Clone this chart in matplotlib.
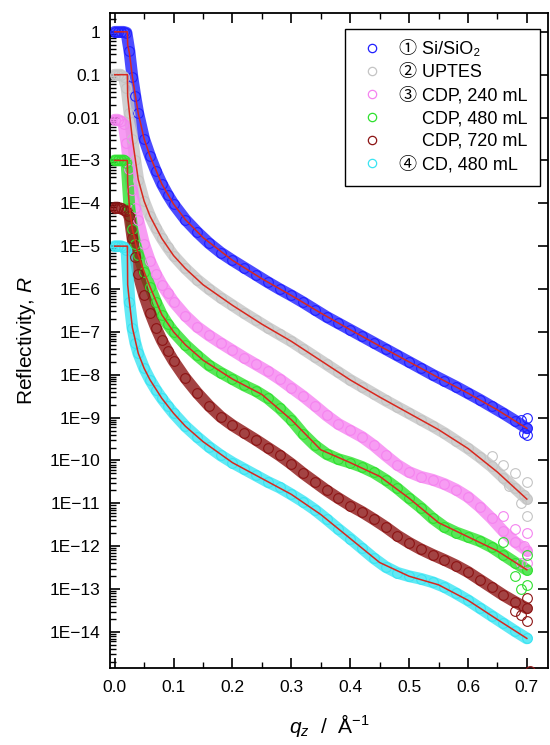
import matplotlib
matplotlib.use("Agg")
import matplotlib.pyplot as plt
from matplotlib.lines import Line2D
from matplotlib.ticker import FixedLocator, MultipleLocator, LogLocator, NullFormatter
import numpy as np

plt.rcParams['font.family'] = ['Liberation Sans', 'Noto Sans CJK JP', 'DejaVu Sans']
plt.rcParams['mathtext.fontset'] = 'custom'
plt.rcParams['mathtext.it'] = 'Liberation Sans:italic'
plt.rcParams['mathtext.rm'] = 'Liberation Sans'

# measured data (log10 R, offset by decades as in the paper figure)
q = [0, 0.005, 0.01, 0.015, 0.02, 0.025, 0.03, 0.035, 0.04, 0.05, 0.06, 0.07, 0.08, 0.09,
     0.10, 0.12, 0.14, 0.16, 0.18, 0.20, 0.22, 0.24, 0.26, 0.28, 0.30, 0.32, 0.34, 0.36,
     0.38, 0.40, 0.42, 0.44, 0.46, 0.48, 0.50, 0.52, 0.54, 0.56, 0.58, 0.60, 0.62, 0.64,
     0.66, 0.68, 0.70]

si_sio2 = [0, 0, 0, 0, -0.02, -0.45, -1.05, -1.5, -1.9, -2.5, -2.9, -3.25, -3.55, -3.8,
           -4.02, -4.38, -4.67, -4.93, -5.15, -5.33, -5.5, -5.67, -5.84, -6.0, -6.15, -6.31,
           -6.48, -6.65, -6.8, -6.95, -7.1, -7.25, -7.4, -7.55, -7.7, -7.85, -8.0,
           -8.14, -8.28, -8.43, -8.58, -8.74, -8.9, -9.07, -9.25]
uptes = [-1.0, -1.0, -1.0, -1.05, -1.3, -1.9, -2.5, -3.0, -3.45, -3.95, -4.3, -4.58, -4.82,
         -5.03, -5.22, -5.52, -5.78, -6.0, -6.2, -6.38, -6.56, -6.73, -6.9, -7.06, -7.22,
         -7.4, -7.58, -7.76, -7.94, -8.12, -8.28, -8.44, -8.6, -8.75, -8.9, -9.05, -9.2,
         -9.36, -9.54, -9.72, -9.92, -10.14, -10.4, -10.65, -10.9]
cdp_240 = [-2.05, -2.05, -2.08, -2.15, -2.6, -3.2, -3.7, -4.1, -4.4, -4.95, -5.35, -5.65,
           -5.9, -6.1, -6.3, -6.62, -6.88, -7.08, -7.26, -7.43, -7.6, -7.76, -7.92,
           -8.1, -8.3, -8.5, -8.72, -8.95, -9.15, -9.3, -9.45, -9.65, -9.88, -10.1,
           -10.27, -10.38, -10.45, -10.55, -10.68, -10.85, -11.08, -11.35, -11.65, -11.9,
           -12.1]
cdp_480 = [-3.0, -3.0, -3.0, -3.0, -3.05, -4.1, -4.6, -4.95, -5.2, -5.6, -5.95, -6.3, -6.6,
           -6.82, -7.0, -7.3, -7.55, -7.78, -7.95, -8.1, -8.25, -8.38, -8.55, -8.78, -9.05,
           -9.38, -9.65, -9.85, -9.97, -10.05, -10.15, -10.28, -10.45, -10.65, -10.88,
           -11.1, -11.35, -11.55, -11.68, -11.78, -11.88, -12.02, -12.2, -12.38, -12.55]
cdp_720 = [-4.1, -4.1, -4.12, -4.15, -4.18, -4.3, -4.8, -5.25, -5.65, -6.15, -6.55, -6.9,
           -7.2, -7.45, -7.68, -8.08, -8.42, -8.72, -8.98, -9.18, -9.35, -9.52, -9.7,
           -9.88, -10.08, -10.3, -10.5, -10.7, -10.88, -11.05, -11.2, -11.37, -11.55,
           -11.75, -11.92, -12.07, -12.2, -12.32, -12.45, -12.6, -12.78, -12.96, -13.14,
           -13.3, -13.45]
cd_480 = [-5.0, -5.0, -5.0, -5.02, -5.1, -6.3, -6.9, -7.25, -7.5, -7.85, -8.12, -8.35, -8.55,
          -8.73, -8.9, -9.2, -9.45, -9.68, -9.88, -10.05, -10.2, -10.35, -10.5, -10.63,
          -10.79, -10.96, -11.15, -11.37, -11.6, -11.82, -12.05, -12.28, -12.48, -12.62,
          -12.7, -12.76, -12.84, -12.95, -13.1, -13.26, -13.44, -13.62, -13.8, -13.98,
          -14.15]

# scattered points at the high-q end
tail_q = {
    'si': [0.69, 0.695, 0.70, 0.70],
    'up': [0.64, 0.66, 0.67, 0.68, 0.69, 0.70, 0.70, 0.695],
    'c240': [0.66, 0.68, 0.69, 0.70, 0.70, 0.695],
    'c480': [0.66, 0.68, 0.69, 0.70, 0.70],
    'c720': [0.68, 0.69, 0.70, 0.70, 0.705],
    'cd': [],
}
tail_r = {
    'si': [-9.05, -9.35, -9.0, -9.4],
    'up': [-9.9, -10.1, -10.6, -10.3, -11.0, -10.5, -11.3, -10.8],
    'c240': [-11.3, -11.6, -12.4, -11.7, -12.4, -12.0],
    'c480': [-11.9, -12.7, -13.0, -12.2, -12.9],
    'c720': [-13.5, -13.6, -13.2, -13.75, -14.9],
    'cd': [],
}

# fitted curves
q_fit = [0, 0.0215, 0.022, 0.025, 0.03, 0.04, 0.05, 0.06, 0.08, 0.10, 0.12, 0.15, 0.20,
         0.25, 0.30, 0.35, 0.40, 0.45, 0.50, 0.55, 0.60, 0.65, 0.70]
fit_si = [0, 0, -0.3, -0.5, -1.05, -1.9, -2.5, -2.9, -3.55, -4.02, -4.38, -4.8, -5.33,
          -5.76, -6.15, -6.56, -6.95, -7.33, -7.7, -8.07, -8.43, -8.82, -9.25]
fit_up = [-1, -1, -1.5, -1.9, -2.5, -3.45, -3.95, -4.3, -4.82, -5.22, -5.52, -5.9, -6.38,
          -6.82, -7.22, -7.67, -8.12, -8.52, -8.9, -9.28, -9.72, -10.27, -10.9]
fit_c480 = [-3, -3, -3.5, -4.1, -4.6, -5.2, -5.6, -5.95, -6.6, -7.0, -7.3, -7.66, -8.1,
            -8.46, -9.05, -9.75, -10.05, -10.37, -10.88, -11.45, -11.78, -12.11, -12.55]
fit_cd = [-5, -5, -5.9, -6.3, -6.9, -7.5, -7.85, -8.12, -8.55, -8.9, -9.2, -9.56, -10.05,
          -10.42, -10.79, -11.26, -11.82, -12.38, -12.7, -12.9, -13.26, -13.71, -14.15]

labels = ['\u2460 Si/SiO\u2082', '\u2461 UPTES', '\u2462 CDP, 240 mL',
          '\u3000 CDP, 480 mL', '\u3000 CDP, 720 mL', '\u2463 CD, 480 mL']
keys = ['si', 'up', 'c240', 'c480', 'c720', 'cd']
series = [si_sio2, uptes, cdp_240, cdp_480, cdp_720, cd_480]
colors = ['#1f1fff', '#c4c4c4', '#f583f0', '#2ee02e', '#8c1414', '#3ae4f2']
fits = [fit_si, fit_up, None, fit_c480, None, fit_cd]

fig = plt.figure(figsize=(5.5, 7.45), dpi=100)
ax = fig.add_axes([0.2, 0.1034, 0.7964, 0.8792])

for k, s, c in zip(keys, series, colors):
    r = 10 ** np.array(s)
    ax.plot(q, r, color=c, lw=8.5, alpha=0.8, solid_capstyle='round', zorder=2)
    ax.plot(q, r, 'o', mfc='none', mec=c, ms=7, mew=0.8, zorder=3)
    ax.plot(tail_q[k], 10 ** np.array(tail_r[k]), 'o', mfc='none', mec=c, ms=7, mew=0.8,
            zorder=3, clip_on=True)

for f in fits:
    if f is not None:
        ax.plot(q_fit, 10 ** np.array(f), color='#d8281e', lw=1.1, zorder=4)

ax.set_yscale('log')
ax.set_xlim(-0.008, 0.736)
ax.set_ylim(10 ** -14.84, 10 ** 0.44)

ax.xaxis.set_major_locator(MultipleLocator(0.1))
ax.xaxis.set_minor_locator(MultipleLocator(0.05))
ax.xaxis.set_major_formatter(matplotlib.ticker.FormatStrFormatter('%.1f'))

dec = list(range(0, -15, -1))
ylabels = ['1', '0.1', '0.01'] + ['1E\u2212%d' % -d for d in dec[3:]]
ax.yaxis.set_major_locator(FixedLocator([10.0 ** d for d in dec]))
ax.set_yticklabels(ylabels)
ax.yaxis.set_minor_locator(LogLocator(base=10, subs=np.arange(2, 10), numticks=40))
ax.yaxis.set_minor_formatter(NullFormatter())

ax.tick_params(which='both', direction='in', labelsize=12.5, top=True, right=True)
ax.tick_params(which='major', length=7, width=1.2)
ax.tick_params(which='minor', length=4, width=1)
ax.tick_params(axis='y', which='minor', right=False)
ax.tick_params(axis='x', pad=9)
ax.tick_params(axis='y', pad=7)
for sp in ax.spines.values():
    sp.set_linewidth(1.3)

ax.set_xlabel(r'$q_z$  /  Å$^{-1}$', fontsize=15, labelpad=12)
ax.set_ylabel(r'Reflectivity, $R$', fontsize=15, labelpad=8)

handles = [Line2D([], [], ls='none', marker='o', mfc='none', mec=c, ms=6, mew=0.9)
           for c in colors]
leg = ax.legend(handles, labels, loc='upper right', bbox_to_anchor=(0.982, 0.976),
                borderaxespad=0, fontsize=13, fancybox=False, framealpha=1,
                edgecolor='black', labelspacing=0.32, handlelength=1.6,
                handletextpad=0.7, borderpad=0.7)
leg.get_frame().set_linewidth(1.0)

fig.savefig('out.png', dpi=100)
